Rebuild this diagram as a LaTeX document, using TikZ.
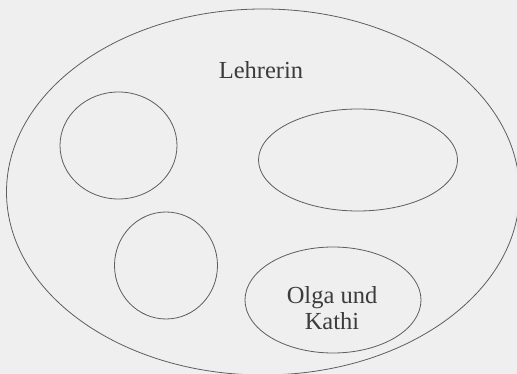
\documentclass[tikz,border=0pt]{standalone}
\usepackage{fontspec}
\setmainfont{Liberation Serif}
\usetikzlibrary{shapes.geometric}
\definecolor{paper}{HTML}{EFEFEF}
\definecolor{pencil}{HTML}{5E5E5E}
\definecolor{ink}{HTML}{3C3C3C}
\tikzset{
  menge/.style={draw=pencil, ellipse, line width=0.8pt, inner sep=0pt},
  beschrift/.style={font=\fontsize{24.5}{26}\selectfont, text=ink, align=center},
}
\begin{document}
\begin{tikzpicture}[x=1pt, y=-1pt]
  % page
  \fill[paper] (0,0) rectangle (517,374);
  \useasboundingbox (0,0) rectangle (517,374);
  % the class and its groups
  \node[menge, minimum width=513pt, minimum height=366pt] (klasse) at (263,192) {};
  \node[beschrift] (lehrerin) at (261,70) {Lehrerin};
  \node[menge, minimum width=117pt, minimum height=107pt] (gruppeA) at (118.5,145.5) {};
  \node[menge, minimum width=199pt, minimum height=102pt] (gruppeB) at (358,160) {};
  \node[menge, minimum width=103pt, minimum height=107pt] (gruppeC) at (166,265.5) {};
  \node[menge, minimum width=176pt, minimum height=106pt] (gruppeD) at (333,300) {};
  \node[beschrift] (olgakathi) at (332,308) {Olga und\\[0pt]Kathi};
\end{tikzpicture}
\end{document}
